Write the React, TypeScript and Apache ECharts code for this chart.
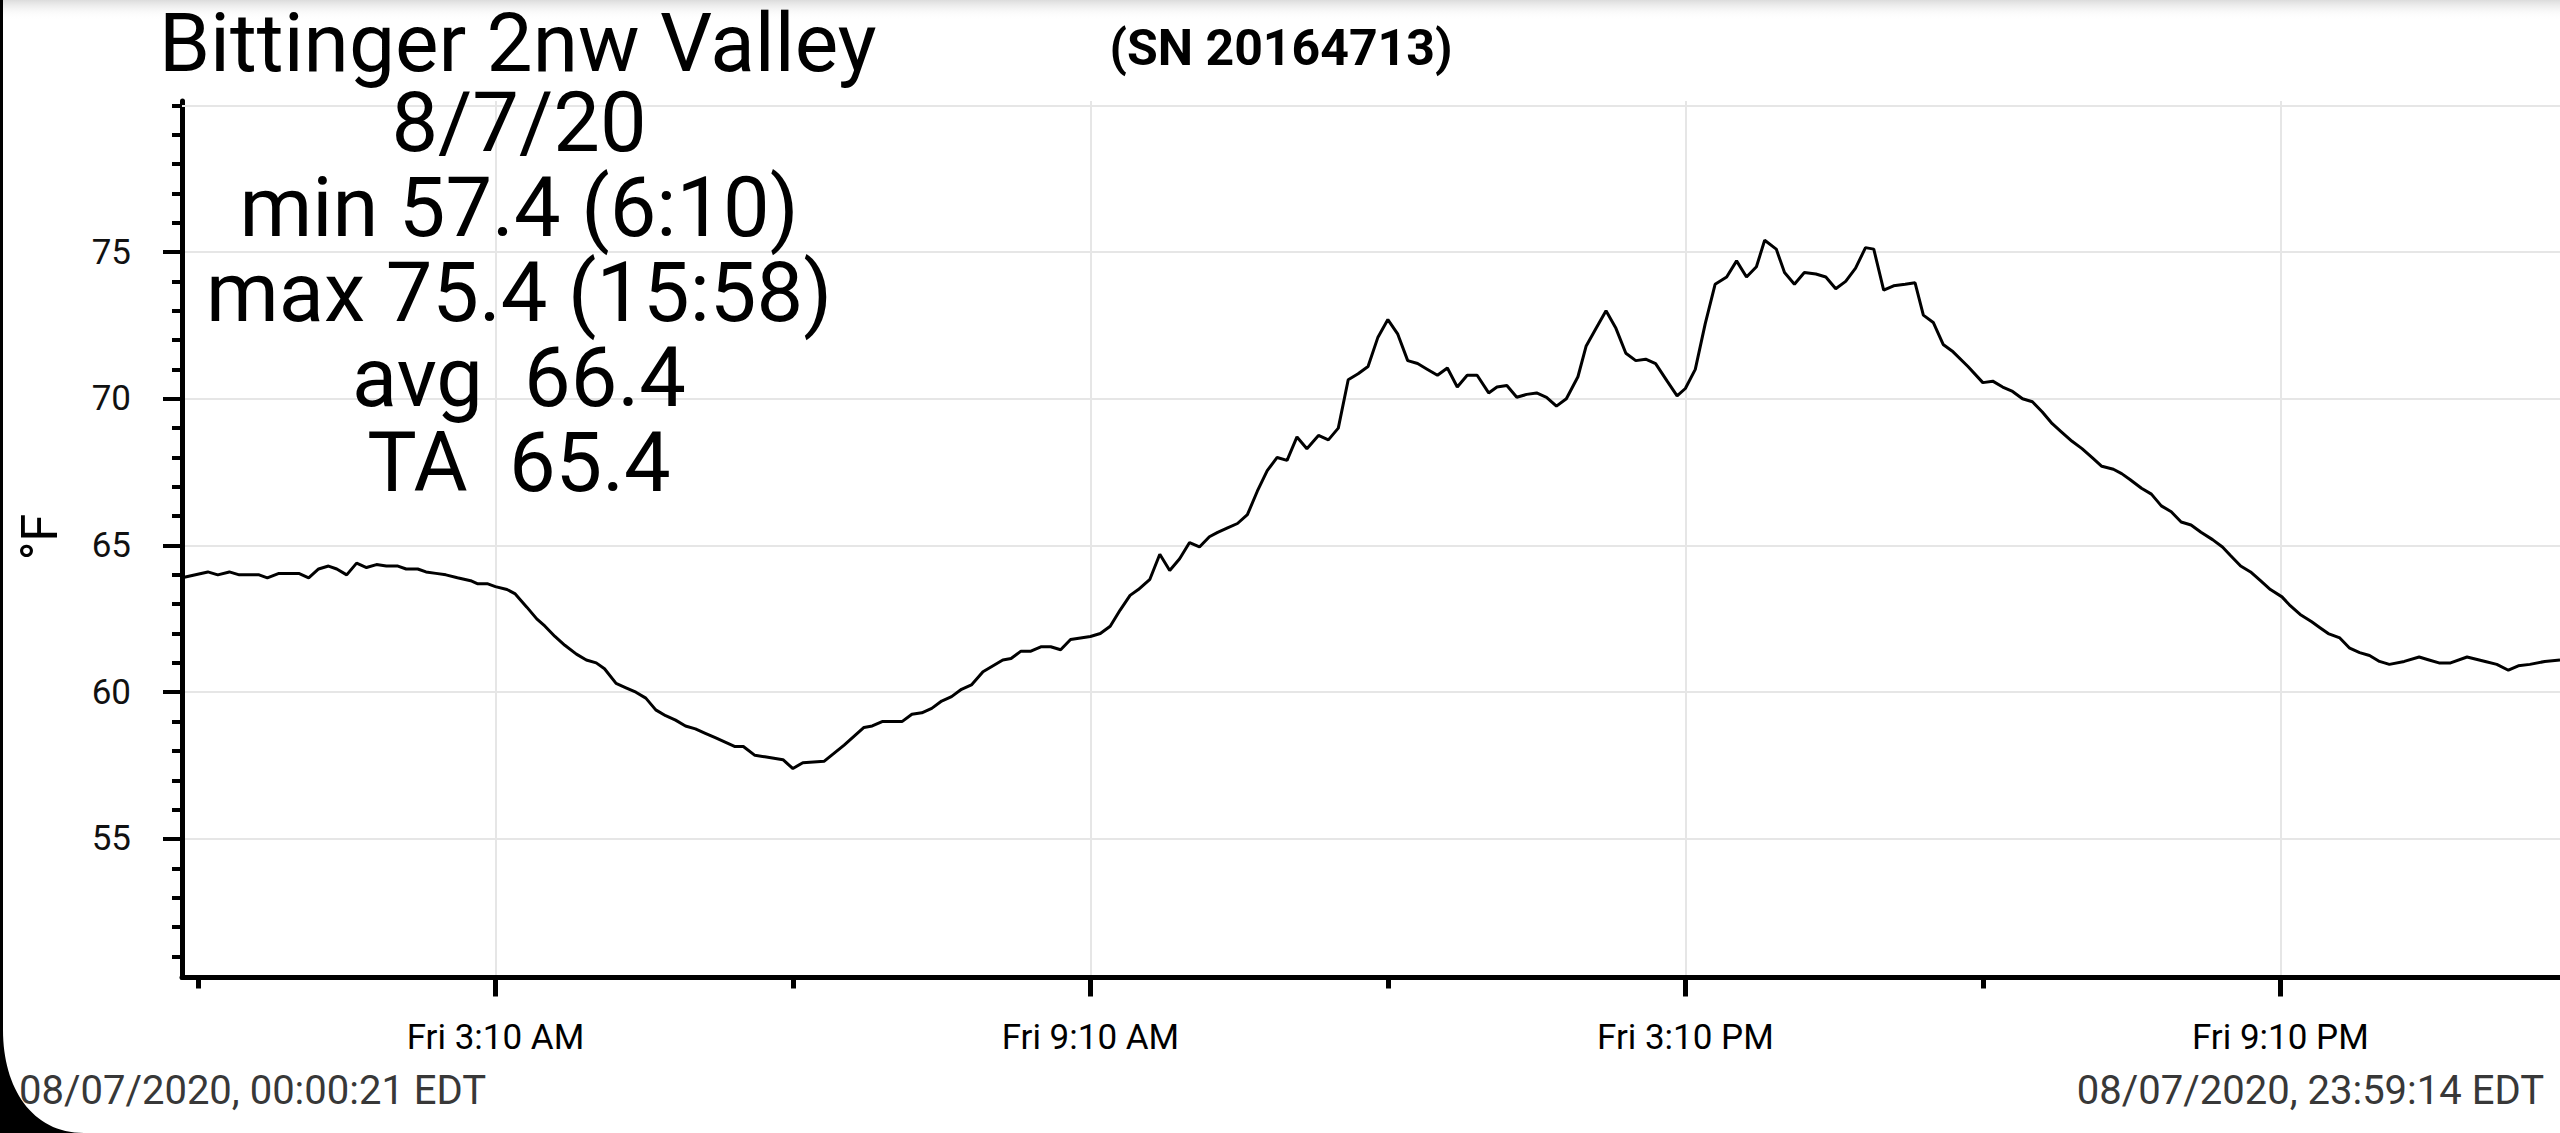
import React, { useEffect, useRef } from 'react';
import * as echarts from 'echarts';

// minutes after midnight, °F
const readings: [number, number][] = [
  [0.35, 63.9], [16, 64.1], [22, 64.0], [29, 64.1], [35, 64.0], [47, 64.0], [52, 63.9], [59, 64.05],
  [71, 64.05], [77, 63.9], [83, 64.2], [89, 64.3], [94, 64.2], [100, 64.0], [106, 64.4], [112, 64.25],
  [118, 64.35], [124, 64.3], [131, 64.3], [136, 64.2], [143, 64.2], [148, 64.1], [154, 64.05], [160, 64.0],
  [167, 63.9], [175, 63.8], [179, 63.7], [185, 63.7], [190, 63.6], [197, 63.5], [202, 63.35], [209, 62.9],
  [215, 62.5], [220, 62.25], [226, 61.9], [232, 61.6], [239, 61.3], [245, 61.1], [251, 61.0], [256, 60.8],
  [263, 60.3], [269, 60.15], [275, 60.0], [281, 59.8], [287, 59.4], [293, 59.2], [299, 59.05], [305, 58.85],
  [311, 58.75], [317, 58.6], [323, 58.45], [329, 58.3], [335, 58.15], [340, 58.15], [347, 57.85], [353, 57.8],
  [364, 57.7], [370, 57.4], [376, 57.6], [389, 57.65], [401, 58.2], [413, 58.8], [418, 58.85], [424, 59.0],
  [436, 59.0], [442, 59.25], [448, 59.3], [454, 59.45], [460, 59.7], [466, 59.85], [472, 60.1], [478, 60.25],
  [485, 60.7], [497, 61.1], [502, 61.15], [508, 61.4], [514, 61.4], [520, 61.55], [526, 61.55], [532, 61.45],
  [538, 61.8], [544, 61.85], [550, 61.9], [556, 62.0], [562, 62.25], [568, 62.8], [574, 63.3], [579, 63.5],
  [586, 63.85], [592, 64.7], [598, 64.15], [604, 64.55], [610, 65.1], [616, 64.95], [622, 65.3], [627, 65.45],
  [633, 65.6], [639, 65.75], [645, 66.05], [651, 66.85], [657, 67.55], [663, 68.0], [669, 67.9], [675, 68.7],
  [681, 68.3], [688, 68.75], [694, 68.6], [700, 69.0], [706, 70.65], [712, 70.85], [718, 71.1], [724, 72.1],
  [730, 72.7], [736, 72.2], [742, 71.3], [748, 71.2], [754, 71.0], [760, 70.8], [766, 71.05], [772, 70.4],
  [778, 70.8], [784, 70.8], [791, 70.2], [796, 70.4], [802, 70.45], [808, 70.05], [814, 70.15], [820, 70.2],
  [826, 70.05], [832, 69.75], [838, 70.0], [845, 70.75], [850, 71.8], [856, 72.4], [862, 73.0], [868, 72.4],
  [874, 71.55], [880, 71.3], [886, 71.35], [892, 71.2], [899, 70.6], [905, 70.1], [910, 70.35], [916, 71.0],
  [922, 72.55], [928, 73.9], [935, 74.15], [941, 74.7], [947, 74.15], [953, 74.5], [958, 75.4], [965, 75.1],
  [970, 74.3], [976, 73.9], [982, 74.3], [989, 74.25], [995, 74.15], [1001, 73.75], [1007, 74.0], [1013, 74.45],
  [1019, 75.15], [1024, 75.1], [1030, 73.7], [1036, 73.85], [1043, 73.9], [1049, 73.95], [1054, 72.85], [1060, 72.6],
  [1066, 71.85], [1072, 71.6], [1081, 71.1], [1090, 70.55], [1096, 70.6], [1102, 70.4], [1108, 70.25], [1114, 70.0],
  [1120, 69.9], [1126, 69.55], [1132, 69.15], [1138, 68.85], [1144, 68.55], [1150, 68.3], [1156, 68.0], [1162, 67.7],
  [1169, 67.6], [1174, 67.45], [1179, 67.25], [1186, 66.95], [1192, 66.75], [1198, 66.35], [1204, 66.15], [1210, 65.8],
  [1216, 65.7], [1222, 65.45], [1229, 65.2], [1235, 64.95], [1240, 64.65], [1246, 64.3], [1252, 64.1], [1258, 63.8],
  [1264, 63.5], [1271, 63.25], [1276, 62.95], [1282, 62.65], [1289, 62.4], [1294, 62.2], [1299, 62.0], [1306, 61.85],
  [1312, 61.5], [1318, 61.35], [1324, 61.25], [1330, 61.05], [1336, 60.95], [1345, 61.05], [1354, 61.2], [1360, 61.1],
  [1366, 61.0], [1373, 61.0], [1383, 61.2], [1394, 61.05], [1401, 60.95], [1408, 60.75], [1414, 60.9], [1421, 60.95],
  [1430, 61.05], [1439.23, 61.1],
];

const xStart = 0.35;
const xEnd = 1439.23;
const yMin = 50.28;
const yMax = 80.15;

const xMajorTicks = [190, 550, 910, 1270];
const xMajorLabels = ['Fri 3:10 AM', 'Fri 9:10 AM', 'Fri 3:10 PM', 'Fri 9:10 PM'];
const xMinorTicks = [10, 370, 730, 1090];

const yMajorTicks = [55, 60, 65, 70, 75];
const yMinorTicks = [51, 52, 53, 54, 56, 57, 58, 59, 61, 62, 63, 64, 66, 67, 68, 69, 71, 72, 73, 74, 76, 77, 78, 79, 80];
const yTopGridLine = 80;

const titleText = 'Bittinger 2nw Valley';
const serialText = '(SN 20164713)';
const statLines = ['8/7/20', 'min 57.4 (6:10)', 'max 75.4 (15:58)', 'avg  66.4', 'TA  65.4'];
const startStamp = '08/07/2020, 00:00:21 EDT';
const endStamp = '08/07/2020, 23:59:14 EDT';
const unitLabel = '°F';

const FONT = 'Roboto';

export default function App() {
  const ref = useRef<HTMLDivElement>(null);

  useEffect(() => {
    if (!ref.current) return;
    echarts.graphic.registerShape(
      'cornerMask',
      echarts.graphic.extendPath('M0 1030 L3 1030 C3 1088 32 1133 84 1133 L0 1133 Z', {})
    );
    const chart = echarts.init(ref.current, undefined, { renderer: 'svg' });

    const statY = [122, 207, 292, 377, 462];

    const graphics: any[] = [
      {
        type: 'rect',
        z: 0,
        shape: { x: 0, y: 0, width: 2560, height: 20 },
        style: {
          fill: new echarts.graphic.LinearGradient(0, 0, 0, 1, [
            { offset: 0, color: '#dcdcdc' },
            { offset: 1, color: 'rgba(255,255,255,0)' },
          ]),
        },
        silent: true,
      },
      {
        type: 'text',
        x: 159,
        y: 43,
        style: {
          text: titleText,
          fontFamily: FONT,
          fontSize: 82,
          lineHeight: 66,
          fill: '#000',
          textAlign: 'left',
          verticalAlign: 'middle',
        },
      },
      {
        type: 'text',
        x: 1281,
        y: 48,
        style: {
          text: serialText,
          fontFamily: FONT,
          fontSize: 50,
          lineHeight: 44,
          fontWeight: 'bold',
          fill: '#000',
          textAlign: 'center',
          verticalAlign: 'middle',
        },
      },
      ...statLines.map((t, i) => ({
        type: 'text',
        x: 519,
        y: statY[i],
        z: 10,
        style: {
          text: t,
          fontFamily: FONT,
          fontSize: 83,
          lineHeight: 70,
          fill: '#000',
          textAlign: 'center',
          verticalAlign: 'middle',
        },
      })),
      {
        type: 'text',
        x: 40,
        y: 537,
        rotation: Math.PI / 2,
        style: {
          text: unitLabel,
          fontFamily: FONT,
          fontSize: 50,
          fill: '#000',
          textAlign: 'center',
          verticalAlign: 'middle',
        },
      },
      {
        type: 'text',
        x: 19,
        y: 1090,
        style: {
          text: startStamp,
          fontFamily: FONT,
          fontSize: 40,
          fill: '#383838',
          textAlign: 'left',
          verticalAlign: 'middle',
        },
      },
      {
        type: 'text',
        x: 2544,
        y: 1090,
        style: {
          text: endStamp,
          fontFamily: FONT,
          fontSize: 40,
          fill: '#383838',
          textAlign: 'right',
          verticalAlign: 'middle',
        },
      },
      {
        type: 'rect',
        shape: { x: 0, y: 0, width: 3, height: 1133 },
        style: { fill: '#000' },
        silent: true,
      },
      {
        type: 'cornerMask',
        x: 0,
        y: 0,
        style: { fill: '#000' },
        silent: true,
      },
    ];

    const baseX = {
      type: 'value',
      min: xStart,
      max: xEnd,
      position: 'bottom',
      gridIndex: 0,
    };
    const baseY = {
      type: 'value',
      min: yMin,
      max: yMax,
      position: 'left',
      gridIndex: 0,
      offset: 0,
    };

    chart.setOption({
      animation: false,
      backgroundColor: '#fff',
      grid: {
        left: 182,
        right: 0,
        top: 100.9,
        bottom: 155.5,
        containLabel: false,
        outerBoundsMode: 'none',
      },
      xAxis: [
        {
          ...baseX,
          axisLine: { show: true, onZero: false, lineStyle: { color: '#000', width: 5 } },
          axisTick: {
            show: true,
            customValues: xMajorTicks,
            length: 19,
            lineStyle: { color: '#000', width: 5 },
          },
          axisLabel: {
            show: true,
            customValues: xMajorTicks,
            margin: 42,
            fontFamily: FONT,
            fontSize: 35,
            color: '#000',
            formatter: (v: number) => {
              const i = xMajorTicks.indexOf(Math.round(v));
              return i >= 0 ? xMajorLabels[i] : '';
            },
          },
          splitLine: { show: true, lineStyle: { color: '#e6e6e6', width: 2 } },
          minorTick: { show: false },
        },
        {
          ...baseX,
          axisLine: { show: false, onZero: false },
          axisTick: {
            show: true,
            customValues: xMinorTicks,
            length: 11,
            lineStyle: { color: '#000', width: 5 },
          },
          axisLabel: { show: false },
          splitLine: { show: false },
        },
      ],
      yAxis: [
        {
          ...baseY,
          axisLine: { show: true, onZero: false, lineStyle: { color: '#000', width: 5 } },
          axisTick: {
            show: true,
            customValues: yMajorTicks,
            length: 19,
            lineStyle: { color: '#000', width: 4 },
          },
          axisLabel: {
            show: true,
            customValues: yMajorTicks,
            margin: 51,
            fontFamily: FONT,
            fontSize: 35,
            color: '#111',
            formatter: (v: number) => String(Math.round(v)),
          },
          splitLine: { show: true, lineStyle: { color: '#e6e6e6', width: 2 } },
        },
        {
          ...baseY,
          axisLine: { show: false, onZero: false },
          axisTick: {
            show: true,
            customValues: yMinorTicks,
            length: 10,
            lineStyle: { color: '#000', width: 4 },
          },
          axisLabel: { show: false },
          splitLine: { show: false },
        },
      ],
      series: [
        {
          type: 'line',
          xAxisIndex: 0,
          yAxisIndex: 0,
          data: readings,
          showSymbol: false,
          symbol: 'none',
          smooth: false,
          lineStyle: { color: '#000', width: 3 },
          itemStyle: { color: '#000' },
          markLine: {
            silent: true,
            symbol: 'none',
            label: { show: false },
            lineStyle: { color: '#e6e6e6', width: 2, type: 'solid' },
            data: [{ yAxis: yTopGridLine }],
          },
          z: 3,
        },
      ],
      graphic: graphics,
    });

    return () => {
      chart.dispose();
    };
  }, []);

  return (
    <div
      ref={ref}
      style={{ position: 'fixed', left: 0, top: 0, width: '2560px', height: '1133px', background: '#fff' }}
    />
  );
}
